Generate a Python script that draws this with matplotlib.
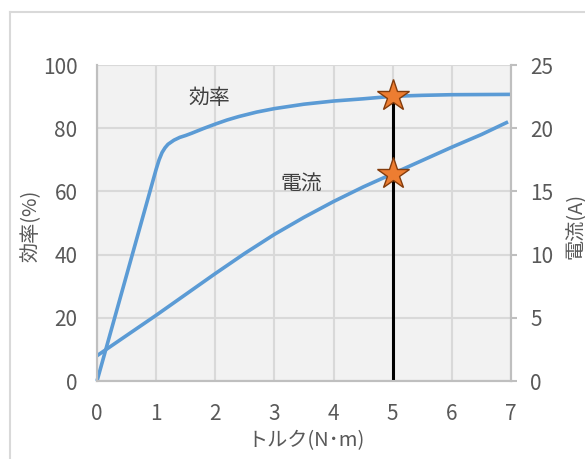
import matplotlib
matplotlib.use("Agg")
import matplotlib.pyplot as plt
from matplotlib.lines import Line2D

plt.rcParams['font.family'] = ['Noto Sans CJK JP', 'DejaVu Sans']

#torque vs efficiency
torqueEff = [0, 1.0, 1.05, 1.1, 1.15, 1.2, 1.3, 1.4, 1.5, 1.6, 1.8, 2.0, 2.2, 2.4, 2.7,
             3.0, 3.5, 4.0, 4.5, 5.0, 5.5, 6.0, 7.0]
efficiency = [0, 67.0, 70.0, 72.3, 73.8, 74.9, 76.2, 77.1, 77.7, 78.4, 79.9, 81.3, 82.6, 83.7, 85.1,
              86.2, 87.6, 88.6, 89.3, 90.1, 90.4, 90.6, 90.7]

#torque vs current (A)
torqueCur = [0, 1.0, 2.0, 2.5, 3.0, 3.5, 4.0, 4.5, 5.0, 5.5, 6.0, 6.5, 6.95]
current = [2.0, 5.2, 8.5, 10.1, 11.6, 12.95, 14.2, 15.35, 16.4, 17.45, 18.5, 19.5, 20.5]

#operating point
pointTorque = 5
pointEff = 90.1
pointCur = 16.4

xTicks = [0, 1, 2, 3, 4, 5, 6, 7]
effTicks = [0, 20, 40, 60, 80, 100]
curTicks = [0, 5, 10, 15, 20, 25]

lineColour = '#5B9BD5'
textGrey = '#595959'
gridGrey = '#D9D9D9'
spineGrey = '#BFBFBF'

fig = plt.figure(figsize=(5.85, 4.59), dpi=100)
ax = fig.add_axes([97/585, 1-381/459, (511-97)/585, (381-65)/459])
ax2 = ax.twinx()

ax.set_facecolor('#F2F2F2')
ax.set_xlim(0, 7)
ax.set_ylim(0, 100)
ax2.set_ylim(0, 25)
ax.set_xticks(xTicks)
ax.set_yticks(effTicks)
ax2.set_yticks(curTicks)
ax.grid(True, color=gridGrey, linewidth=1.5)
ax.set_axisbelow(True)

for a in (ax, ax2):
    for side in ('left', 'right', 'bottom'):
        a.spines[side].set_color(spineGrey)
        a.spines[side].set_linewidth(1.5)
    a.spines['top'].set_visible(False)

ax.tick_params(axis='x', length=0, pad=16, labelsize=15, labelcolor=textGrey)
ax.tick_params(axis='y', length=0, pad=14, labelsize=15, labelcolor=textGrey)
ax2.tick_params(axis='y', length=4, width=1.5, color=spineGrey, pad=10, labelsize=15, labelcolor=textGrey)

#curves
ax.plot(torqueEff, efficiency, color=lineColour, linewidth=2.6, solid_joinstyle='round',
        solid_capstyle='butt', clip_on=False)
ax2.plot(torqueCur, current, color=lineColour, linewidth=2.6, solid_joinstyle='round',
         solid_capstyle='butt')

#vertical marker line and stars
ax2.plot([pointTorque, pointTorque], [0, pointEff], color='black', linewidth=2.2,
         transform=ax.transData)
ax2.plot(pointTorque, pointEff, marker='*', markersize=24, markerfacecolor='#ED7D31',
         markeredgecolor='#843C0C', markeredgewidth=1.0, transform=ax.transData, clip_on=False)
ax2.plot(pointTorque, pointCur, marker='*', markersize=24, markerfacecolor='#ED7D31',
         markeredgecolor='#843C0C', markeredgewidth=1.0)

ax.text(1.9, 89.5, '効率', fontsize=15, color='#404040', ha='center', va='center')
ax.text(3.45, 62.5, '電流', fontsize=15, color='#404040', ha='center', va='center')

fig.text(306/585, 1-441/459, 'トルク(N･m)', fontsize=14.5, color=textGrey, ha='center', va='center')
fig.text(31/585, 1-226/459, '効率(%)', fontsize=14.5, color=textGrey, ha='center', va='center', rotation=90)
fig.text(576/585, 1-226/459, '電流(A)', fontsize=14.5, color=textGrey, ha='center', va='center', rotation=90)

#chart area border (left and top edges only visible)
fig.add_artist(Line2D([10/585, 10/585], [0, 1-12/459], color=gridGrey, linewidth=1.5))
fig.add_artist(Line2D([10/585, 584/585], [1-12/459, 1-12/459], color=gridGrey, linewidth=1.5))

fig.savefig('out.png', dpi=100)
